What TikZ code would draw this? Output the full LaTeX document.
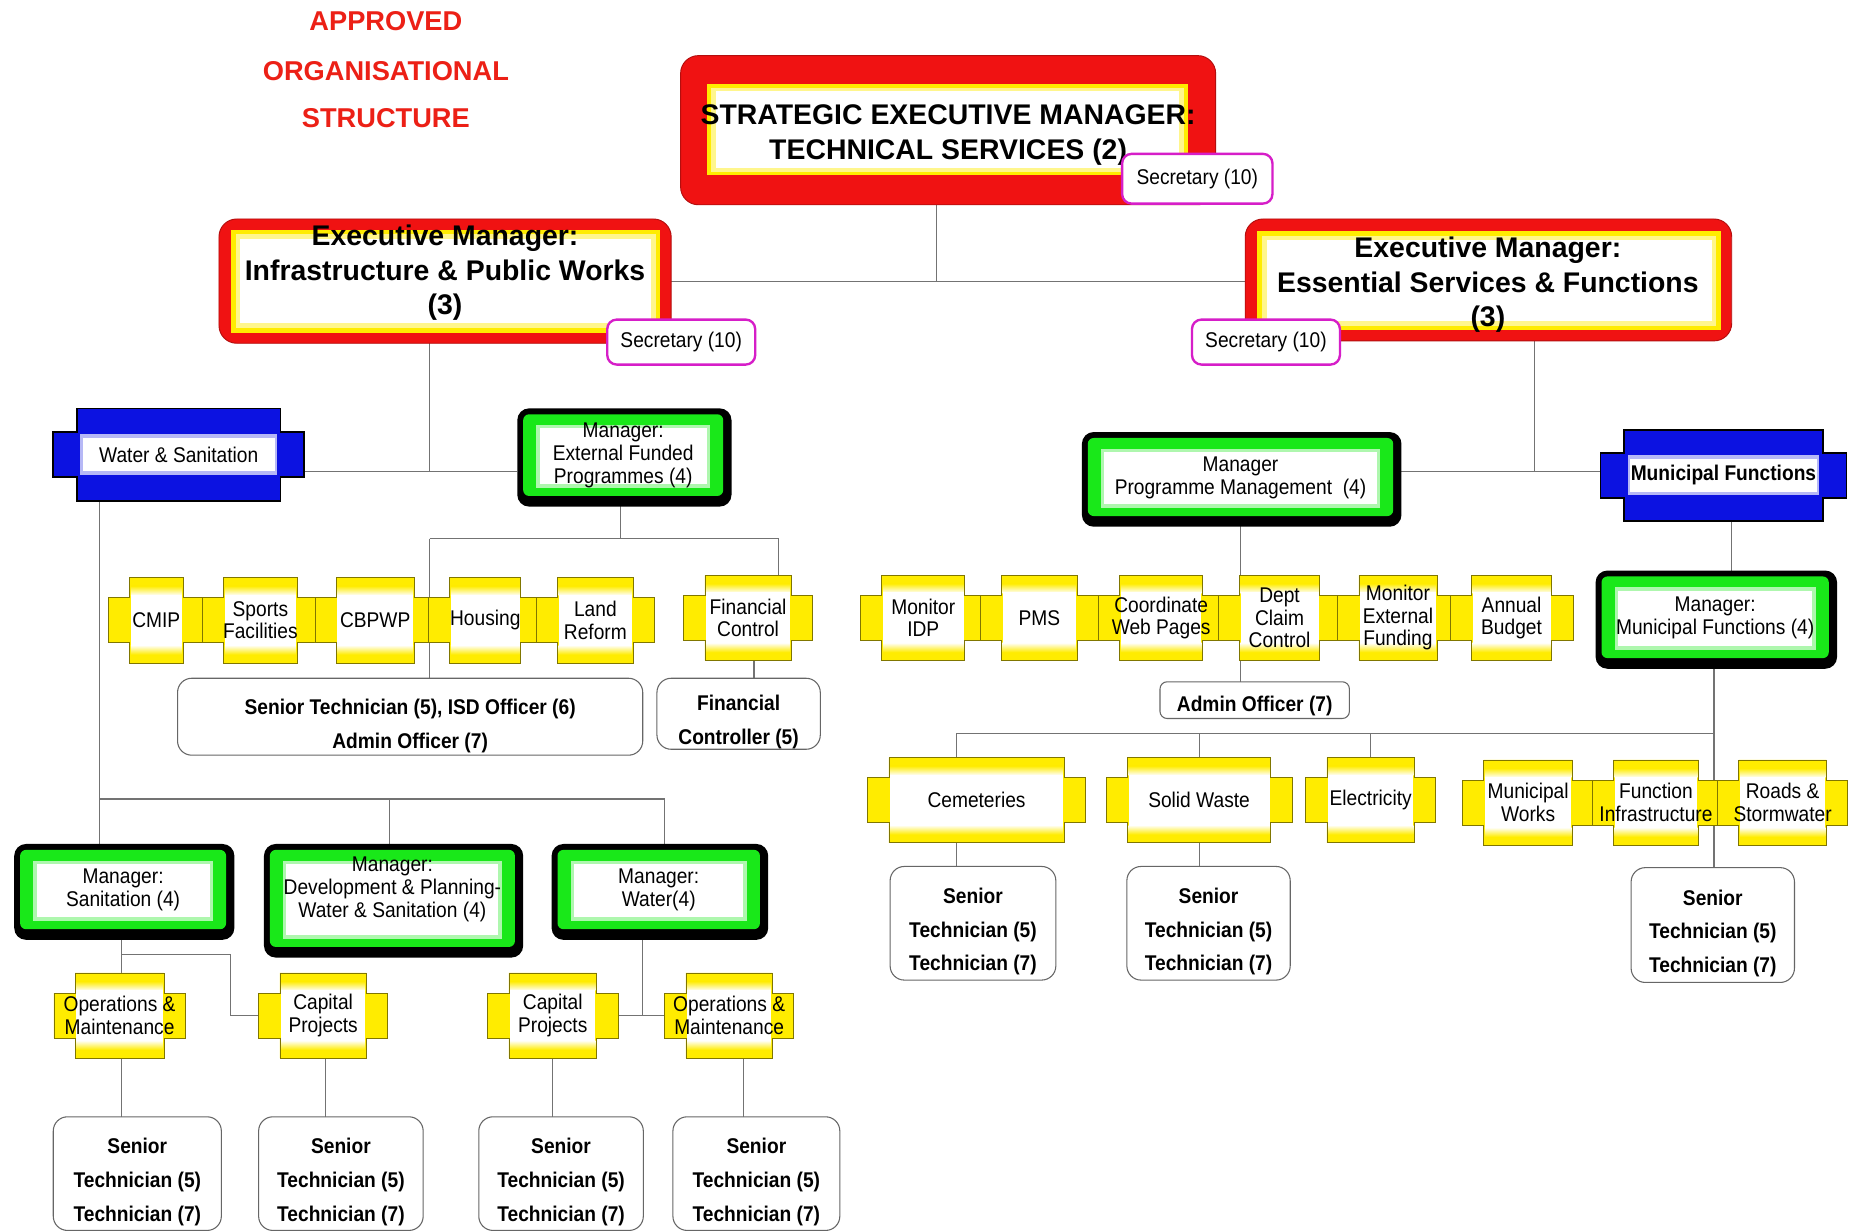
\documentclass[tikz,border=0pt]{standalone}
\usepackage{fontspec}
\setmainfont{Liberation Sans}
\newfontfamily\nr[FakeStretch=0.9]{Liberation Sans}
\usetikzlibrary{calc}
\pgfdeclarelayer{bg}
\pgfsetlayers{bg,main}

\definecolor{ored}{RGB}{240,18,18}
\definecolor{oyel}{RGB}{255,236,0}
\definecolor{ogrn}{RGB}{25,232,25}
\definecolor{oblu}{RGB}{12,18,225}
\definecolor{omag}{RGB}{214,30,200}
\definecolor{otitle}{RGB}{236,32,22}

\tikzset{
  every node/.style={inner sep=0pt, outer sep=0pt},
  conn/.style={draw=black!55, line width=0.9pt},
  txt/.style={font={\nr\fontsize{18}{19}\selectfont}, align=center},
  btxt/.style={font={\nr\bfseries\fontsize{18}{28.5}\selectfont}, align=center},
  exectxt/.style={font={\bfseries\fontsize{24}{29}\selectfont}, align=center},
  titletxt/.style={font={\bfseries\fontsize{23}{41}\selectfont}, text=otitle, anchor=base},
  secbox/.style={draw=omag, line width=2pt, fill=white, rounded corners=8pt,
    font={\nr\fontsize{18}{19}\selectfont}},
  staffbox/.style={draw=black!60, line width=0.9pt, fill=white, rounded corners=12pt, btxt},
  seniorbox/.style={staffbox, minimum height=96, text height=84pt},
  redbox/.style={fill=ored, draw=ored!75!black, line width=0.8pt, rounded corners=15pt},
}

% yellow cross-shaped unit box: name, x, y, body width, text
\newcommand\ycross[5]{%
  \pgfmathsetmacro\yxhw{#4/2}%
  \pgfmathsetmacro\yxtw{#4/2+18}%
  \filldraw[fill=oyel, draw=oyel!50!black, line width=0.6pt]
    (#2-\yxhw,#3-36) -- (#2+\yxhw,#3-36) -- (#2+\yxhw,#3-19) -- (#2+\yxtw,#3-19)
    -- (#2+\yxtw,#3+19) -- (#2+\yxhw,#3+19) -- (#2+\yxhw,#3+36) -- (#2-\yxhw,#3+36)
    -- (#2-\yxhw,#3+19) -- (#2-\yxtw,#3+19) -- (#2-\yxtw,#3-19) -- (#2-\yxhw,#3-19) -- cycle;
  \shade[top color=oyel, bottom color=white] (#2-\yxhw+1,#3-29) rectangle (#2+\yxhw-1,#3-21);
  \fill[white] (#2-\yxhw+1,#3-21.5) rectangle (#2+\yxhw-1,#3+21.5);
  \shade[top color=white, bottom color=oyel] (#2-\yxhw+1,#3+21) rectangle (#2+\yxhw-1,#3+29);
  \node[txt, minimum width=#4, minimum height=72] (#1) at (#2,#3) {#5};
}

% blue cross-shaped section box: name, x, y, body width, body height, text
\newcommand\bcross[6]{%
  \pgfmathsetmacro\bxhw{#4/2}%
  \pgfmathsetmacro\bxhh{#5/2}%
  \pgfmathsetmacro\bxtw{#4/2+20}%
  \filldraw[fill=oblu, draw=black, line width=1.4pt]
    (#2-\bxhw,#3-\bxhh) -- (#2+\bxhw,#3-\bxhh) -- (#2+\bxhw,#3-19) -- (#2+\bxtw,#3-19)
    -- (#2+\bxtw,#3+19) -- (#2+\bxhw,#3+19) -- (#2+\bxhw,#3+\bxhh) -- (#2-\bxhw,#3+\bxhh)
    -- (#2-\bxhw,#3+19) -- (#2-\bxtw,#3+19) -- (#2-\bxtw,#3-19) -- (#2-\bxhw,#3-19) -- cycle;
  \fill[oblu!30!white] (#2-\bxhw+3,#3-17) rectangle (#2+\bxhw-3,#3+17);
  \fill[white] (#2-\bxhw+5,#3-14) rectangle (#2+\bxhw-5,#3+14);
  \node[txt, minimum width=#4, minimum height=#5] (#1) at (#2,#3) {#6};
}

% green manager box: name, x1, y1, x2, y2, text shift, text
\newcommand\gbox[7]{%
  \fill[black, rounded corners=10pt] (#2,#3) rectangle (#4+2,#5+3);
  \fill[ogrn, rounded corners=5pt] (#2+5,#3+5) rectangle (#4-5,#5-6);
  \fill[ogrn!35!white] (#2+16,#3+14) rectangle (#4-16,#5-13);
  \fill[white] (#2+19,#3+17) rectangle (#4-19,#5-16);
  \node[minimum width=#4-#2, minimum height=#5-#3] (#1) at ({(#2+#4)/2},{(#3+#5)/2}) {};
  \node[txt, font={\nr\fontsize{18}{19.5}\selectfont}] (#1-t) at ({(#2+#4)/2},{(#3+#5)/2+#6}) {#7};
}

\begin{document}
\begin{tikzpicture}[x=1pt, y=-1pt]
\useasboundingbox (0,0) rectangle (1568,1040);
\begin{pgfonlayer}{bg}
  \fill[white] (0,0) rectangle (1568,1040);
\end{pgfonlayer}

% heading
\node[titletxt] (t1) at (326,26) {APPROVED};
\node[titletxt] (t2) at (326,68) {ORGANISATIONAL};
\node[titletxt] (t3) at (326,108) {STRUCTURE};

% strategic executive manager
\path[redbox] (575,47) rectangle (1027,173);
\fill[oyel] (597,71) rectangle (1004,148);
\fill[oyel!45!white] (601,74) rectangle (1000,145);
\fill[white] (605,77) rectangle (996,142);
\node[minimum width=452, minimum height=126] (sem) at (801,110) {};
\node[exectxt] (sem-t) at (801,114) {STRATEGIC EXECUTIVE MANAGER:\\TECHNICAL SERVICES (2)};
\node[secbox, minimum width=127, minimum height=42] (sec0) at (1011.5,151) {Secretary (10)};

% executive managers
\path[redbox] (185,185) rectangle (567,290);
\fill[oyel] (195,194) rectangle (558,281);
\fill[oyel!45!white] (199,198) rectangle (554,277);
\fill[white] (203,202) rectangle (550,273);
\node[minimum width=382, minimum height=105] (emL) at (376,237.5) {};
\node[exectxt] (emL-t) at (376,230.5) {Executive Manager:\\Infrastructure \& Public Works\\(3)};
\node[secbox, minimum width=125, minimum height=38] (sec1) at (575.5,289) {Secretary (10)};

\path[redbox] (1052,185) rectangle (1463,288);
\fill[oyel] (1062,195) rectangle (1454,279);
\fill[oyel!45!white] (1066,199) rectangle (1450,275);
\fill[white] (1070,203) rectangle (1446,271);
\node[minimum width=411, minimum height=103] (emR) at (1257.5,236.5) {};
\node[exectxt] (emR-t) at (1257,240.5) {Executive Manager:\\Essential Services \& Functions\\(3)};
\node[secbox, minimum width=125, minimum height=38] (sec2) at (1069.5,289) {Secretary (10)};

% sections
\bcross{ws}{151}{384}{172}{78}{Water \& Sanitation}
\bcross{mf}{1456}{401.5}{168}{77}{\bfseries Municipal Functions}

% managers
\gbox{ef}{437}{345}{616}{425}{0}{Manager:\\External Funded\\Programmes (4)}
\gbox{pm}{914}{365}{1182}{442}{0}{Manager\\Programme Management~~(4)}
\gbox{mfm}{1348}{482}{1550}{562}{0}{Manager:\\Municipal Functions (4)}
\gbox{ms}{12}{713}{196}{791}{0}{Manager:\\Sanitation (4)}
\gbox{dp}{223}{713}{440}{806}{-8}{Manager:\\Development \& Planning-\\Water \& Sanitation (4)}
\gbox{mw}{466}{713}{647}{791}{0}{Manager:\\Water(4)}

% external funded programmes units
\ycross{cmip}{132}{524}{45}{CMIP}
\ycross{spf}{220}{524}{62}{Sports\\Facilities}
\ycross{cbp}{317}{524}{66}{CBPWP}
\ycross{hou}{410}{524}{60}{Housing}
\ycross{lar}{503}{524}{64}{Land\\Reform}
\ycross{fc}{632}{522}{73}{Financial\\Control}

% programme management units
\ycross{idp}{780}{522}{70}{Monitor\\IDP}
\ycross{pms}{878}{522}{64}{PMS}
\ycross{cwp}{981}{522}{70}{Coordinate\\Web Pages}
\ycross{dcc}{1081}{522}{68}{Dept\\Claim\\Control}
\ycross{mef}{1181}{522}{66}{Monitor\\External\\Funding}
\ycross{abu}{1277}{522}{68}{Annual\\Budget}

% municipal functions units
\ycross{cem}{825}{676}{148}{Cemeteries}
\ycross{sw}{1013}{676}{121}{Solid Waste}
\ycross{el}{1158}{676}{74}{Electricity}
\ycross{mwk}{1291}{678}{75}{Municipal\\Works}
\ycross{fin}{1399}{678}{72}{Function\\Infrastructure}
\ycross{rs}{1506}{678}{74}{Roads \&\\Stormwater}

% water and sanitation units
\ycross{om1}{101}{858}{75}{Operations \&\\Maintenance}
\ycross{cp1}{273}{858}{73}{Capital\\Projects}
\ycross{cp2}{467}{858}{74}{Capital\\Projects}
\ycross{om2}{616}{858}{73}{Operations \&\\Maintenance}

% staff
\node[staffbox, minimum width=393, minimum height=65, text height=57.5pt] (sa) at (346.5,605.5)
  {Senior Technician (5), ISD Officer (6)\\Admin Officer (7)};
\node[staffbox, minimum width=138, minimum height=60, text height=55.5pt] (fcr) at (624,603)
  {Financial\\Controller (5)};
\node[staffbox, minimum width=160, minimum height=31, rounded corners=6pt, text height=23.7pt] (ao) at (1060,591.5)
  {Admin Officer (7)};
\node[seniorbox, minimum width=142] (st1) at (116,991.5) {Senior\\Technician (5)\\Technician (7)};
\node[seniorbox, minimum width=139] (st2) at (288,991.5) {Senior\\Technician (5)\\Technician (7)};
\node[seniorbox, minimum width=139] (st3) at (474,991.5) {Senior\\Technician (5)\\Technician (7)};
\node[seniorbox, minimum width=141] (st4) at (639,991.5) {Senior\\Technician (5)\\Technician (7)};
\node[seniorbox, minimum width=140] (st5) at (822,780) {Senior\\Technician (5)\\Technician (7)};
\node[seniorbox, minimum width=138] (st6) at (1021,780) {Senior\\Technician (5)\\Technician (7)};
\node[seniorbox, minimum width=138, minimum height=97] (st7) at (1447,781.5) {Senior\\Technician (5)\\Technician (7)};

% reporting lines
\begin{pgfonlayer}{bg}
  \coordinate (j0) at (791,238);
  \draw[conn] (j0 |- sem.south) -- (j0);
  \draw[conn] (emL.east |- j0) -- (emR.west |- j0);
  \coordinate (jL) at (363,398);
  \draw[conn] (jL |- emL.south) -- (jL);
  \draw[conn] (ws.east |- jL) -- (ef.west |- jL);
  \coordinate (jR) at (1296,398);
  \draw[conn] (jR |- emR.south) -- (jR);
  \draw[conn] (pm.east |- jR) -- (mf.west |- jR);

  \coordinate (jE) at (363,455);
  \coordinate (jF) at (658,455);
  \coordinate (xE) at (524,0);
  \coordinate (xF) at (637,0);
  \draw[conn] (xE |- ef.south) -- (xE |- jE);
  \draw[conn] (jE) -- (jF) -- (jF |- fc.north);
  \draw[conn] (jE) -- (jE |- sa.north);
  \draw[conn] (xF |- fc.south) -- (xF |- fcr.north);

  \coordinate (jW) at (84,675);
  \coordinate (jW2) at (561,675);
  \coordinate (xD) at (329,0);
  \draw[conn] (jW |- ws.south) -- (jW) -- (jW |- ms.north);
  \draw[conn] (jW) -- (jW2) -- (jW2 |- mw.north);
  \draw[conn] (xD |- jW) -- (xD |- dp.north);

  \coordinate (jS) at (103,806);
  \coordinate (jS2) at (195,806);
  \draw[conn] (jS |- ms.south) -- (jS |- om1.north);
  \draw[conn] (jS) -- (jS2) -- (jS2 |- cp1.west) -- (cp1.west);
  \coordinate (jWa) at (543,858);
  \draw[conn] (jWa |- mw.south) -- (jWa);
  \draw[conn] (cp2.east) -- (om2.west);
  \coordinate (xC) at (275,0);
  \coordinate (xO) at (628,0);
  \draw[conn] (jS |- om1.south) -- (jS |- st1.north);
  \draw[conn] (xC |- cp1.south) -- (xC |- st2.north);
  \draw[conn] (cp2.south) -- (cp2.south |- st3.north);
  \draw[conn] (xO |- om2.south) -- (xO |- st4.north);

  \draw[conn] (pm.south) -- (pm.south |- ao.north);
  \coordinate (xM) at (1463,0);
  \draw[conn] (xM |- mf.south) -- (xM |- mfm.north);
  \coordinate (jMF) at (1448,620);
  \coordinate (b1) at (808,620);
  \draw[conn] (jMF |- mfm.south) -- (jMF |- st7.north);
  \draw[conn] (b1) -- (jMF);
  \draw[conn] (b1) -- (b1 |- cem.north);
  \draw[conn] (sw.north |- b1) -- (sw.north);
  \draw[conn] (el.north |- b1) -- (el.north);
  \draw[conn] (b1 |- cem.south) -- (b1 |- st5.north);
  \draw[conn] (sw.south) -- (sw.south |- st6.north);
\end{pgfonlayer}
\end{tikzpicture}
\end{document}
